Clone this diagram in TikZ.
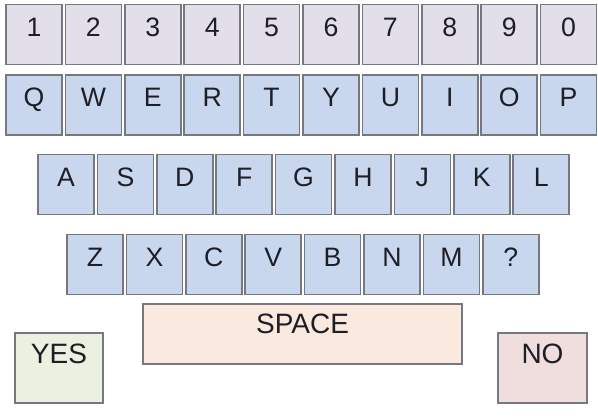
\documentclass[tikz,border=0pt]{standalone}
\usepackage{fontspec}
\setmainfont{Liberation Sans}

\definecolor{keyBorder}{RGB}{118,120,128}
\definecolor{numFill}{RGB}{226,222,234}
\definecolor{letterFill}{RGB}{200,215,238}
\definecolor{spaceFill}{RGB}{250,233,222}
\definecolor{yesFill}{RGB}{234,241,224}
\definecolor{noFill}{RGB}{240,222,222}
\definecolor{keyText}{RGB}{30,30,38}

\def\keyWidth{42pt}
\def\keyHeight{45pt}
\def\keyPitch{59.4}

\tikzset{
  keybox/.style = {draw = keyBorder, line width = 1.1pt, rectangle,
    minimum width = \keyWidth, minimum height = \keyHeight, inner sep = 0pt,
    text = keyText, font = \fontsize{20}{24}\selectfont,
    text height = 14.3pt, text depth = 12pt},
  numkey/.style = {keybox, fill = numFill},
  letterkey/.style = {keybox, fill = letterFill},
  bigkey/.style = {keybox, font = \fontsize{21}{25}\selectfont,
    text height = 15pt}
}

\begin{document}
\begin{tikzpicture}[x = 0.75pt, y = -0.75pt]
  \useasboundingbox (0,0) rectangle (598,420);

  % number row
  \foreach \lab [count = \i from 0] in {1,2,3,4,5,6,7,8,9,0}
    \node [numkey] (num-\i) at ({34+\i*\keyPitch}, 34.5) {\lab};

  % letter rows
  \foreach \lab [count = \i from 0] in {Q,W,E,R,T,Y,U,I,O,P}
    \node [letterkey] (qrow-\i) at ({34+\i*\keyPitch}, 105) {\lab};
  \foreach \lab [count = \i from 0] in {A,S,D,F,G,H,J,K,L}
    \node [letterkey] (arow-\i) at ({66+\i*\keyPitch}, 184.5) {\lab};
  \foreach \lab [count = \i from 0] in {Z,X,C,V,B,N,M,?}
    \node [letterkey] (zrow-\i) at ({95+\i*\keyPitch}, 264.5) {\lab};

  % space, yes and no
  \node [bigkey, fill = spaceFill, minimum width = 239pt, text depth = 16.5pt]
    (space) at (302.5, 334) {SPACE};
  \node [bigkey, fill = yesFill, minimum width = 66pt, minimum height = 52.5pt,
    text depth = 22.5pt] (yes) at (59, 368) {YES};
  \node [bigkey, fill = noFill, minimum width = 66.5pt, minimum height = 52.5pt,
    text depth = 22.5pt] (no) at (542.5, 368) {NO};
\end{tikzpicture}
\end{document}
